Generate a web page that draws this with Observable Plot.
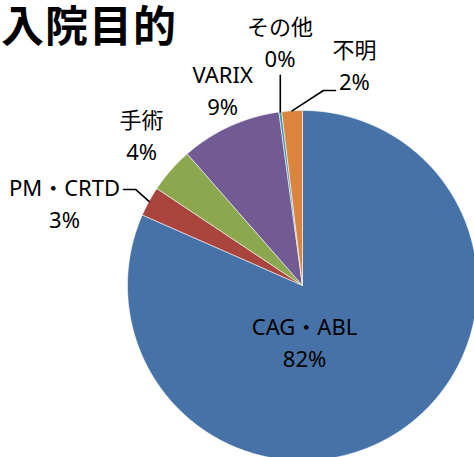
<!DOCTYPE html>
<html><head><meta charset="utf-8">
<script src="https://cdn.jsdelivr.net/npm/d3@7"></script>
<script src="https://cdn.jsdelivr.net/npm/@observablehq/plot@0.6"></script>
<style>
html,body{margin:0;padding:0;background:#fff;overflow:hidden}
#wrap{position:relative;width:474px;height:457px;overflow:hidden}
#title{position:absolute;left:1px;top:0;margin:0;font:bold 43px/46px "Noto Sans CJK JP",sans-serif;letter-spacing:1px;color:#000;white-space:nowrap}
</style>
</head><body><div id="wrap"><div id="chart"></div><div id="title"></div></div>
<script>
// ---- data ----
const title = "入院目的";
const categories = ["CAG・ABL", "PM・CRTD", "手術", "VARIX", "その他", "不明"];
const values = [81.6, 2.75, 4.2, 9.3, 0.25, 1.9];
const colors = ["#4672A8", "#A9443F", "#8BA84F", "#725A94", "#3F97AF", "#DB843D"];

// ---- layout ----
const W = 474, H = 457, CX = 302, CY = 285, R = 175;
const labelOffset = [[-93.6, -91.2], [-84.5, 0], [-29.3, -36.6], [-7.4, -37.8], [-0.3, -71.4], [62.4, -46.8]];
const leaderElbows = [null, [[-13.5, -12], [-25.5, -12]], null, null, [[0, -36.5]], [[31.4, -20.3], [43.4, -20.3]]];

const total = d3.sum(values);
const arcs = d3.pie().sort(null).value(d => d).startAngle(0).endAngle(2 * Math.PI)(values);
const pt = (a, r) => [r * Math.sin(a), -r * Math.cos(a)];

const slicePts = [];
const labels = [];
const leaders = [];
arcs.forEach((a, i) => {
  const name = categories[i];
  slicePts.push({name, x: 0, y: 0});
  const n = Math.max(2, Math.ceil((a.endAngle - a.startAngle) / (Math.PI / 720)));
  for (let k = 0; k <= n; k++) {
    const t = a.startAngle + (a.endAngle - a.startAngle) * k / n;
    const [x, y] = pt(t, R);
    slicePts.push({name, x, y});
  }
  slicePts.push({name, x: 0, y: 0});
  const mid = (a.startAngle + a.endAngle) / 2;
  const [mx, my] = pt(mid, R);
  labels.push({x: mx + labelOffset[i][0], y: my + labelOffset[i][1],
    text: name + "\n" + Math.round(values[i] / total * 100) + "%"});
  if (leaderElbows[i]) {
    leaders.push({name, x: mx, y: my});
    leaderElbows[i].forEach(([dx, dy]) => leaders.push({name, x: mx + dx, y: my + dy}));
  }
});

const chart = Plot.plot({
  width: W, height: H, margin: 0,
  x: {domain: [-CX, W - CX], range: [0, W], axis: null},
  y: {domain: [-CY, H - CY], range: [0, H], axis: null},
  color: {domain: categories, range: colors},
  style: {fontFamily: '"Noto Sans","Noto Sans CJK JP",sans-serif', background: "#fff", overflow: "hidden"},
  marks: [
    Plot.line(slicePts, {x: "x", y: "y", z: "name", fill: "name", stroke: "#fff", strokeWidth: 0.8, strokeOpacity: 0.7, curve: "linear"}),
    Plot.line(leaders, {x: "x", y: "y", z: "name", stroke: "#000", strokeWidth: 1.6}),
    Plot.text(labels, {x: "x", y: "y", text: "text", fontSize: 22, lineHeight: 1.45, fill: "#000"})
  ]
});
document.getElementById("chart").appendChild(chart);
document.getElementById("title").textContent = title;
</script>
</body></html>
